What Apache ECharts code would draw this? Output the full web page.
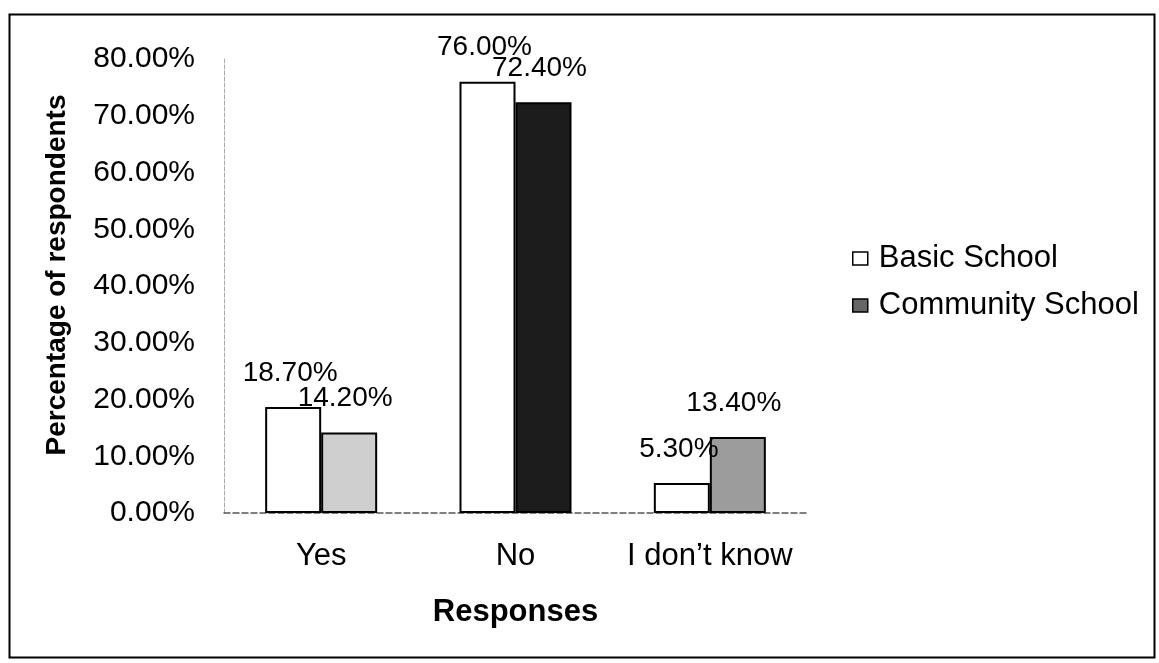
<!DOCTYPE html>
<html>
<head>
<meta charset="utf-8">
<script src="https://cdn.jsdelivr.net/npm/echarts@6/dist/echarts.min.js"></script>
<style>
html,body{margin:0;padding:0;background:#fff;}
#chart{width:1159px;height:663px;}
</style>
</head>
<body>
<div id="chart"></div>
<script>
const categories = ['Yes', 'No', 'I don\u2019t know'];
const basicSchool = [18.7, 76.0, 5.3];
const communitySchool = [14.2, 72.4, 13.4];
const yTicks = { min: 0, max: 80, interval: 10 };

const communityShades = ['#cfcfcf', '#1c1c1c', '#9c9c9c'];
const FONT = '"Liberation Sans", Arial, sans-serif';

const chart = echarts.init(document.getElementById('chart'), null, { renderer: 'canvas' });
const pct = v => v.toFixed(2) + '%';

chart.setOption({
  backgroundColor: '#ffffff',
  animation: false,
  textStyle: { fontFamily: FONT, color: '#000' },
  graphic: [{
    type: 'rect', left: 7, top: 12,
    shape: { width: 1145, height: 643 },
    style: { fill: 'none', stroke: '#000', lineWidth: 2 }
  }],
  grid: { left: 224, right: 352, top: 59, bottom: 150 },
  legend: {
    orient: 'vertical', left: 847, top: 238, itemGap: 16,
    icon: 'rect', itemWidth: 15, itemHeight: 13,
    textStyle: { fontFamily: FONT, fontSize: 31, color: '#000', padding: [0, 0, 0, 6] },
    data: [
      { name: 'Basic School', itemStyle: { color: '#fff', borderColor: '#000', borderWidth: 1.5 } },
      { name: 'Community School', itemStyle: { color: '#666', borderColor: '#000', borderWidth: 1.5 } }
    ]
  },
  xAxis: {
    type: 'category', data: categories,
    name: 'Responses', nameLocation: 'middle', nameGap: 84,
    nameTextStyle: { fontFamily: FONT, fontSize: 31, fontWeight: 'bold', color: '#000' },
    axisLine: { lineStyle: { color: '#555', width: 1.5, type: 'dashed' } },
    axisTick: { show: false },
    axisLabel: { interval: 0, fontFamily: FONT, fontSize: 31, color: '#000', margin: 28 }
  },
  yAxis: {
    type: 'value', min: yTicks.min, max: yTicks.max, interval: yTicks.interval,
    name: 'Percentage of respondents', nameLocation: 'middle', nameGap: 153,
    nameTextStyle: { fontFamily: FONT, fontSize: 28, fontWeight: 'bold', color: '#000', padding: [0, 0, 0, 22] },
    axisLine: { show: true, lineStyle: { color: '#aaa', width: 1, type: 'dashed' } },
    axisTick: { show: false },
    splitLine: { show: false },
    axisLabel: { fontFamily: FONT, fontSize: 30, color: '#000', margin: 29, formatter: pct }
  },
  series: [
    {
      name: 'Basic School', type: 'bar', data: basicSchool,
      barWidth: 56, barGap: '0%',
      itemStyle: { color: '#fff', borderColor: '#000', borderWidth: 2 },
      label: { show: true, position: 'top', distance: 20, offset: [-3, 0], fontFamily: FONT, fontSize: 28, color: '#000', formatter: p => pct(p.value) }
    },
    {
      name: 'Community School', type: 'bar',
      data: communitySchool.map((v, i) => ({ value: v, itemStyle: { color: communityShades[i] } })),
      barWidth: 56, barGap: '0%',
      itemStyle: { color: '#666', borderColor: '#000', borderWidth: 2 },
      label: { show: true, position: 'top', distance: 20, offset: [-4, 0], fontFamily: FONT, fontSize: 28, color: '#000', formatter: p => pct(p.value) }
    }
  ]
});
</script>
</body>
</html>
